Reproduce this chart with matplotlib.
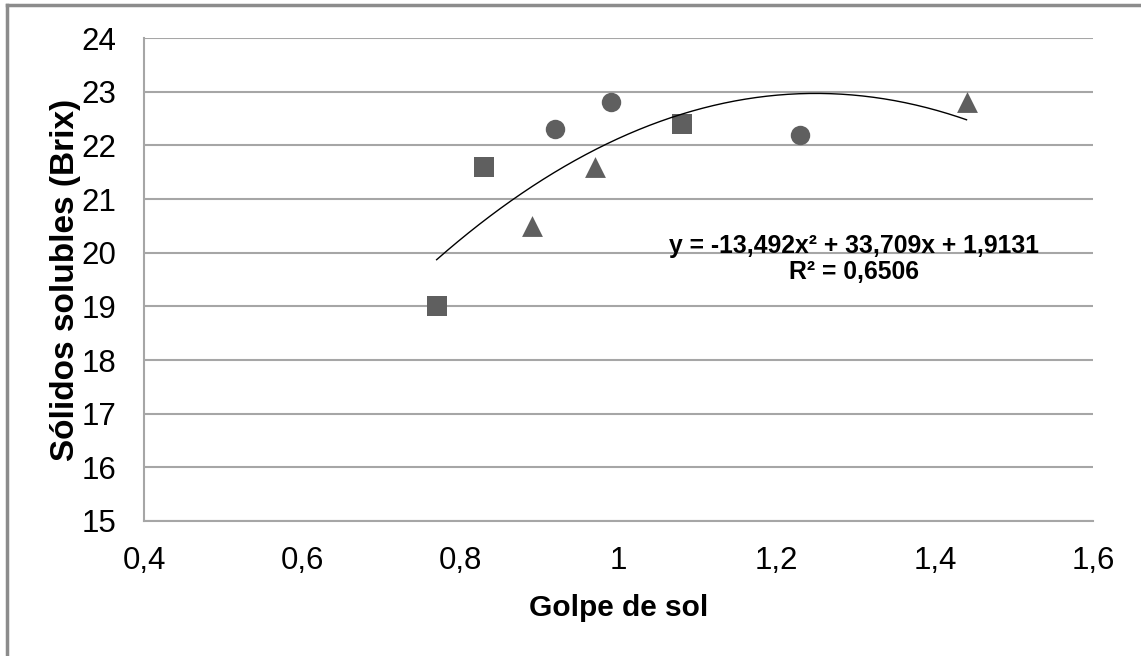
import numpy as np
import matplotlib.pyplot as plt
from matplotlib.lines import Line2D

plt.rcParams['font.family'] = ['Liberation Sans', 'DejaVu Sans']

# Points, one list per marker shape.
sq_x = [0.77, 0.83, 1.08]
sq_y = [19.0, 21.6, 22.4]
ci_x = [0.92, 0.99, 1.23]
ci_y = [22.3, 22.8, 22.2]
tr_x = [0.89, 0.97, 1.44]
tr_y = [20.5, 21.6, 22.8]

# Polynomial trend line as printed on the chart.
trend_coef = [-13.492, 33.709, 1.9131]
trend_label = 'y = -13,492x² + 33,709x + 1,9131\nR² = 0,6506'

x_ticks = [0.4, 0.6, 0.8, 1.0, 1.2, 1.4, 1.6]
x_tick_labels = ['0,4', '0,6', '0,8', '1', '1,2', '1,4', '1,6']
y_ticks = list(range(15, 25))

fig = plt.figure(figsize=(11.41, 6.56), dpi=100)
ax = fig.add_axes([0.1262, 0.2058, 0.8318, 0.7362])

mark_color = '#5f5f5f'
ax.scatter(sq_x, sq_y, marker='s', s=14**2, color=mark_color, linewidths=0, zorder=3)
ax.scatter(ci_x, ci_y, marker='o', s=14**2, color=mark_color, linewidths=0, zorder=3)
ax.scatter(tr_x, tr_y, marker='^', s=15**2, color=mark_color, linewidths=0, zorder=3)

all_x = sq_x + ci_x + tr_x
xs = np.linspace(min(all_x), max(all_x), 200)
ax.plot(xs, np.polyval(trend_coef, xs), color='black', lw=1.0, zorder=4)

ax.text(1.298, 19.88, trend_label, fontsize=17.8, fontweight='bold',
        ha='center', va='center', multialignment='center', linespacing=1.1)

ax.set_xlim(0.4, 1.6)
ax.set_ylim(15, 24)
ax.set_xticks(x_ticks)
ax.set_xticklabels(x_tick_labels)
ax.set_yticks(y_ticks)
ax.tick_params(axis='both', length=0, labelsize=22.5)
ax.tick_params(axis='x', pad=18)
ax.tick_params(axis='y', pad=20)
ax.grid(axis='y', color='#a6a6a6', lw=1.5)
ax.set_axisbelow(True)

for side in ['top', 'right']:
    ax.spines[side].set_visible(False)
for side in ['left', 'bottom']:
    ax.spines[side].set_color('#a6a6a6')
    ax.spines[side].set_linewidth(1.5)

ax.set_xlabel('Golpe de sol', fontsize=21.5, fontweight='bold', labelpad=13)
ax.set_ylabel('Sólidos solubles (Brix)', fontsize=24, fontweight='bold', labelpad=0)

# Chart frame, cut by the picture edge on the right and bottom.
fig.add_artist(Line2D([7 / 1141, 7 / 1141], [0, 1 - 5 / 656], color='#8c8c8c', lw=2.5))
fig.add_artist(Line2D([7 / 1141, 1], [1 - 5 / 656, 1 - 5 / 656], color='#8c8c8c', lw=2.5))

fig.savefig('out.png', dpi=100)
